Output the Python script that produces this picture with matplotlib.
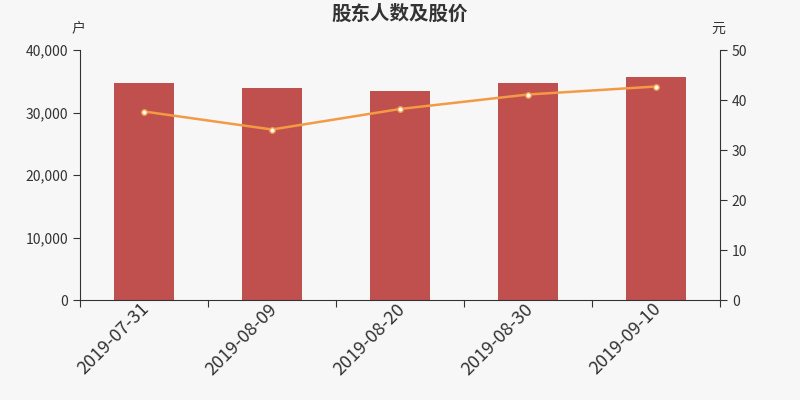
import matplotlib
matplotlib.use("Agg")
import matplotlib.pyplot as plt
import matplotlib.transforms as mtransforms
from matplotlib.ticker import FuncFormatter

plt.rcParams['font.family'] = ['Noto Sans CJK SC', 'DejaVu Sans']

dates = ["2019-07-31", "2019-08-09", "2019-08-20", "2019-08-30", "2019-09-10"]
holders = [34700, 33900, 33400, 34800, 35650]
prices = [37.7, 34.1, 38.2, 41.1, 42.7]

bg = "#f7f7f7"
axis_c = "#333333"
fig = plt.figure(figsize=(8, 4), dpi=100, facecolor=bg)
ax = fig.add_axes([0.1, 0.25, 0.8, 0.625])
ax.set_facecolor(bg)
x = list(range(len(dates)))
ax.bar(x, holders, width=0.47, color="#c0504d", zorder=2)
ax.set_xlim(-0.5, len(dates) - 0.5)
ax.set_ylim(0, 40000)
ax.set_yticks([0, 10000, 20000, 30000, 40000])
ax.yaxis.set_major_formatter(FuncFormatter(lambda v, p: f"{int(v):,}"))
ax.set_xticks([i - 0.5 for i in range(len(dates) + 1)], minor=False)
ax.set_xticklabels([])
ax.set_xticks(x, minor=True)
ax.set_xticklabels(dates, minor=True, rotation=45, ha='right', rotation_mode='anchor',
                   fontsize=13, color=axis_c)
ax.tick_params(axis='x', which='minor', length=0, pad=0)
ax.tick_params(axis='x', which='major', length=5, color=axis_c, direction='out')
offset = mtransforms.ScaledTranslation(-4 / 100, 0, fig.dpi_scale_trans)
for lbl in ax.xaxis.get_minorticklabels():
    lbl.set_transform(lbl.get_transform() + offset)
ax.tick_params(axis='y', length=5, color=axis_c, labelcolor=axis_c, labelsize=10)
for s in ['top', 'right']:
    ax.spines[s].set_visible(False)
for s in ['left', 'bottom']:
    ax.spines[s].set_color(axis_c)

ax2 = ax.twinx()
ax2.plot(x, prices, color="#f39a45", lw=1.8, marker='o', markersize=4,
         markerfacecolor="white", markeredgecolor="#f39a45", markeredgewidth=1, zorder=3)
ax2.set_ylim(0, 50)
ax2.set_yticks([0, 10, 20, 30, 40, 50])
ax2.tick_params(axis='y', length=5, color=axis_c, labelcolor=axis_c, labelsize=10)
for s in ['top', 'left', 'bottom']:
    ax2.spines[s].set_visible(False)
ax2.spines['right'].set_color(axis_c)

fig.text(0.5, 0.965, "股东人数及股价", ha='center', va='center', fontsize=14,
         fontweight='bold', color=axis_c)
fig.text(0.098, 0.93, "户", ha='center', va='center', fontsize=10, color=axis_c)
fig.text(0.898, 0.928, "元", ha='center', va='center', fontsize=10, color=axis_c)

fig.savefig("out.png", dpi=100, facecolor=bg)
